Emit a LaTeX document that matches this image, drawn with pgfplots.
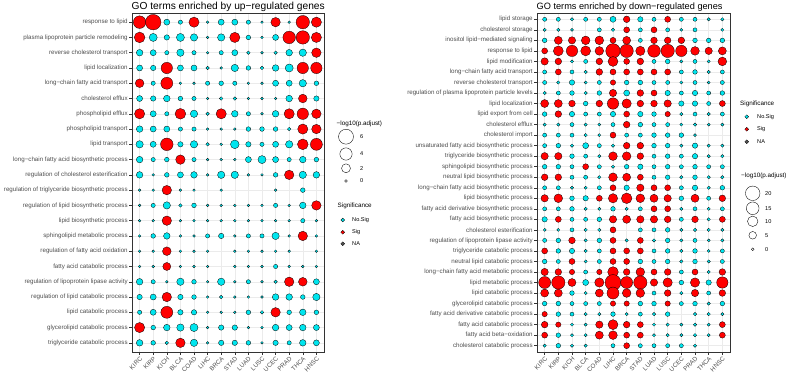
\documentclass[border=0pt]{standalone}
\usepackage{pgfplots}
\pgfplotsset{compat=1.18}
\usepackage{pgfplotstable}
\usepackage{fontspec}
\setmainfont{Liberation Sans}
\definecolor{sigred}{HTML}{FF0000}
\definecolor{nscyan}{HTML}{00E5EE}
\definecolor{nagrey}{HTML}{555555}
\definecolor{labgrey}{HTML}{4D4D4D}
\definecolor{gridgrey}{HTML}{EBEBEB}
\definecolor{framegrey}{HTML}{333333}
\newcommand\tickfont{\fontsize{6.2}{7}\selectfont}
\newcommand\legtitlefont{\fontsize{6.3}{7}\selectfont}
\newcommand\legfont{\fontsize{5.6}{6}\selectfont}

% x = cancer index (0..13), y = GO term row (1 = top), v = -log10(p.adjust), s = 1 Sig / 0 No.Sig
\pgfplotstableread[row sep=\\]{
x y v s\\
0 1 4.2 1\\ 1 1 6.5 1\\ 2 1 0.8 0\\ 3 1 0.3 0\\ 4 1 2.7 1\\ 5 1 0 0\\ 6 1 0.8 0\\ 7 1 0.8 0\\ 8 1 0.3 0\\ 9 1 0 0\\ 10 1 2.3 1\\ 11 1 0 0\\ 12 1 4.8 1\\ 13 1 2.7 1\\
0 2 3.0 1\\ 1 2 1.6 0\\ 2 2 0.6 0\\ 3 2 1.6 0\\ 4 2 1.3 0\\ 5 2 0 0\\ 6 2 1.3 0\\ 7 2 2.7 1\\ 8 2 0.4 0\\ 9 2 0 0\\ 10 2 0.8 0\\ 11 2 4.2 1\\ 12 2 4.8 1\\ 13 2 2.7 1\\
0 3 1.0 0\\ 1 3 0.8 0\\ 2 3 0.3 0\\ 3 3 1.3 0\\ 4 3 0.3 0\\ 5 3 0 0\\ 6 3 0.3 0\\ 7 3 0.8 0\\ 8 3 0.15 0\\ 9 3 0 0\\ 10 3 0.15 0\\ 11 3 1.0 0\\ 12 3 1.3 0\\ 13 3 2.3 1\\
0 4 0.8 0\\ 1 4 0.6 0\\ 2 4 3.4 1\\ 3 4 0.8 0\\ 4 4 0.8 0\\ 5 4 0.15 0\\ 6 4 0 0\\ 7 4 1.3 0\\ 8 4 0.4 0\\ 9 4 0.15 0\\ 10 4 1.0 0\\ 11 4 1.6 0\\ 12 4 3.4 1\\ 13 4 3.4 1\\
0 5 1.9 1\\ 1 5 0.3 0\\ 2 5 3.8 1\\ 3 5 0 0\\ 4 5 0 0\\ 5 5 0.3 0\\ 6 5 0.4 0\\ 7 5 0.3 0\\ 8 5 0 0\\ 9 5 0 0\\ 10 5 0.8 0\\ 11 5 0.8 0\\ 12 5 1.3 0\\ 13 5 0.4 0\\
0 6 0.8 0\\ 1 6 0.6 0\\ 2 6 1.0 0\\ 3 6 0.4 0\\ 4 6 0.3 0\\ 5 6 0 0\\ 6 6 0.15 0\\ 7 6 0.15 0\\ 8 6 0 0\\ 9 6 0 0\\ 10 6 0 0\\ 11 6 1.0 0\\ 12 6 1.9 1\\ 13 6 0.6 0\\
0 7 2.7 1\\ 1 7 0.8 0\\ 2 7 0.3 0\\ 3 7 3.0 1\\ 4 7 1.3 0\\ 5 7 0.15 0\\ 6 7 2.7 1\\ 7 7 1.0 0\\ 8 7 0.3 0\\ 9 7 0 0\\ 10 7 1.0 0\\ 11 7 2.7 1\\ 12 7 3.4 1\\ 13 7 2.3 1\\
0 8 1.0 0\\ 1 8 0.8 0\\ 2 8 0.8 0\\ 3 8 0.3 0\\ 4 8 0.3 0\\ 5 8 0 0\\ 6 8 0 0\\ 7 8 0 0\\ 8 8 0.4 0\\ 9 8 0.4 0\\ 10 8 0.4 0\\ 11 8 0.15 0\\ 12 8 2.7 1\\ 13 8 2.3 1\\
0 9 1.3 0\\ 1 9 0.8 0\\ 2 9 4.2 1\\ 3 9 0.6 0\\ 4 9 1.3 0\\ 5 9 0.15 0\\ 6 9 0 0\\ 7 9 1.9 0\\ 8 9 0.6 0\\ 9 9 0.3 0\\ 10 9 0.8 0\\ 11 9 1.3 0\\ 12 9 3.0 1\\ 13 9 3.8 1\\
0 10 1.0 0\\ 1 10 0.3 0\\ 2 10 0.4 0\\ 3 10 2.3 1\\ 4 10 0.3 0\\ 5 10 0 0\\ 6 10 0 0\\ 7 10 0 0\\ 8 10 0.8 0\\ 9 10 1.6 0\\ 10 10 0.8 0\\ 11 10 0.3 0\\ 12 10 1.0 0\\ 13 10 0.4 0\\
0 11 1.0 0\\ 1 11 0 0\\ 2 11 0.4 0\\ 3 11 0.8 0\\ 4 11 1.0 0\\ 5 11 0 0\\ 6 11 1.3 0\\ 7 11 1.3 0\\ 8 11 0 0\\ 9 11 0 0\\ 10 11 0.4 0\\ 11 11 2.3 1\\ 12 11 1.3 0\\ 13 11 1.0 0\\
0 12 0 0\\ 1 12 0 0\\ 2 12 2.3 1\\ 3 12 0 0\\ 4 12 0 0\\ 6 12 0 0\\ 10 12 0 0\\ 12 12 0.4 0\\
0 13 0 0\\ 1 13 0.3 0\\ 2 13 1.3 0\\ 3 13 0.15 0\\ 4 13 0.4 0\\ 5 13 0 0\\ 6 13 0 0\\ 7 13 0 0\\ 8 13 0 0\\ 9 13 0 0\\ 10 13 0.3 0\\ 11 13 0 0\\ 12 13 1.0 0\\ 13 13 2.3 1\\
0 14 0 0\\ 1 14 0 0\\ 2 14 2.3 1\\ 3 14 0 0\\ 4 14 0 0\\ 5 14 0 0\\ 6 14 0 0\\ 7 14 0 0\\ 8 14 0 0\\ 9 14 0 0\\ 10 14 0 0\\ 11 14 0 0\\ 12 14 0.3 0\\ 13 14 0 0\\
0 15 0 0\\ 1 15 0.4 0\\ 2 15 1.0 0\\ 3 15 0 0\\ 4 15 0 0\\ 5 15 0.3 0\\ 6 15 0.6 0\\ 7 15 0 0\\ 8 15 0.3 0\\ 9 15 0.3 0\\ 10 15 1.3 0\\ 11 15 0 0\\ 12 15 2.3 1\\ 13 15 0 0\\
0 16 0 0\\ 1 16 0 0\\ 2 16 1.9 1\\ 3 16 0 0\\ 4 16 0 0\\ 5 16 0 0\\ 7 16 0 0\\ 8 16 0 0\\ 9 16 0 0\\ 10 16 0 0\\ 11 16 0 0\\ 13 16 0 0\\
0 17 0 0\\ 1 17 0 0\\ 2 17 1.6 1\\ 3 17 0 0\\ 4 17 0 0\\ 5 17 0 0\\ 7 17 0 0\\ 8 17 0 0\\ 9 17 0 0\\ 10 17 0.3 0\\ 11 17 0 0\\ 12 17 0 0\\ 13 17 0 0\\
0 18 1.0 0\\ 1 18 0.3 0\\ 2 18 0 0\\ 3 18 1.3 0\\ 4 18 0.4 0\\ 5 18 0 0\\ 6 18 1.3 0\\ 7 18 0 0\\ 8 18 0.3 0\\ 9 18 0 0\\ 10 18 0.15 0\\ 11 18 2.3 1\\ 12 18 1.9 1\\ 13 18 0.8 0\\
0 19 0.6 0\\ 1 19 0.8 0\\ 2 19 2.3 1\\ 3 19 0.6 0\\ 4 19 0.4 0\\ 5 19 0 0\\ 6 19 0.15 0\\ 7 19 0 0\\ 8 19 0 0\\ 9 19 0 0\\ 10 19 1.0 0\\ 11 19 1.0 0\\ 12 19 0.4 0\\ 13 19 1.3 0\\
0 20 0.3 0\\ 1 20 0.8 0\\ 2 20 3.8 1\\ 3 20 0.6 0\\ 4 20 0.6 0\\ 5 20 0 0\\ 6 20 0 0\\ 7 20 0 0\\ 8 20 0.4 0\\ 9 20 0.15 0\\ 10 20 2.3 1\\ 11 20 0.4 0\\ 12 20 1.0 0\\ 13 20 0.4 0\\
0 21 2.7 1\\ 1 21 0.4 0\\ 2 21 1.0 0\\ 3 21 1.3 0\\ 4 21 1.6 0\\ 5 21 0 0\\ 6 21 0.6 0\\ 7 21 0.6 0\\ 8 21 0 0\\ 9 21 0 0\\ 10 21 1.0 0\\ 11 21 0.8 0\\ 12 21 1.0 0\\ 13 21 0.8 0\\
0 22 1.0 0\\ 1 22 0.4 0\\ 2 22 0.15 0\\ 3 22 2.3 1\\ 4 22 1.3 0\\ 5 22 0 0\\ 6 22 0.6 0\\ 7 22 0.6 0\\ 8 22 0.4 0\\ 9 22 0 0\\ 10 22 0.6 0\\ 11 22 0.3 0\\ 12 22 1.0 0\\ 13 22 0.8 0\\
}\upT

\pgfplotstableread[row sep=\\]{
x y v s\\
0 1 0.9 0\\ 1 1 0.9 0\\ 2 1 0.4 0\\ 3 1 0.9 0\\ 4 1 0.9 0\\ 5 1 2.8 0\\ 6 1 3.6 1\\ 7 1 2.1 0\\ 8 1 0.9 0\\ 9 1 2.8 1\\ 10 1 0.9 0\\ 11 1 0.9 0\\ 12 1 0.4 0\\ 13 1 0.4 0\\
0 2 0.4 0\\ 1 2 0.4 0\\ 2 2 0.2 0\\ 4 2 0.9 0\\ 5 2 0.4 0\\ 6 2 2.8 1\\ 7 2 0.9 0\\ 8 2 2.8 1\\ 9 2 0.9 0\\ 10 2 0.2 0\\ 11 2 0.9 0\\ 13 2 0.2 0\\
0 3 1.4 0\\ 1 3 5.6 1\\ 2 3 4.6 1\\ 3 3 6.7 1\\ 4 3 6.7 1\\ 5 3 2.8 1\\ 6 3 5.6 1\\ 7 3 0.9 0\\ 8 3 3.6 1\\ 9 3 3.6 1\\ 10 3 3.6 1\\ 11 3 1.4 0\\ 12 3 1.4 0\\ 13 3 1.4 0\\
0 4 2.8 1\\ 1 4 9 1\\ 2 4 12 1\\ 3 4 9 1\\ 4 4 6.7 1\\ 5 4 20 1\\ 6 4 16.7 1\\ 7 4 7.8 1\\ 8 4 15 1\\ 9 4 16.7 1\\ 10 4 12 1\\ 11 4 6.7 1\\ 12 4 4.6 1\\ 13 4 5.6 1\\
0 5 4.6 1\\ 1 5 3.6 1\\ 2 5 0.3 0\\ 3 5 0.9 0\\ 4 5 3.6 1\\ 5 5 9 1\\ 6 5 2.8 1\\ 7 5 3.6 1\\ 8 5 0.9 0\\ 9 5 1.4 0\\ 10 5 0.3 0\\ 11 5 0.9 0\\ 12 5 0.3 0\\ 13 5 6.7 1\\
0 6 0.9 0\\ 1 6 2.8 1\\ 2 6 0.9 0\\ 3 6 0.4 0\\ 4 6 3.6 1\\ 5 6 2.8 1\\ 6 6 2.8 1\\ 7 6 2.8 1\\ 8 6 2.8 1\\ 9 6 2.8 1\\ 10 6 0.9 0\\ 11 6 1.4 0\\ 12 6 0.4 0\\ 13 6 0.9 0\\
0 7 0.9 0\\ 1 7 0.4 0\\ 2 7 2.1 0\\ 3 7 0.3 0\\ 4 7 0.9 0\\ 5 7 2.1 1\\ 6 7 1.4 0\\ 7 7 1.4 0\\ 8 7 0.9 0\\ 9 7 0.9 0\\ 10 7 0.3 0\\ 11 7 0.9 0\\ 12 7 0.2 0\\ 13 7 0.9 0\\
0 8 0.4 0\\ 1 8 0.9 0\\ 2 8 1.4 0\\ 3 8 0.4 0\\ 4 8 1.4 0\\ 5 8 4.6 1\\ 6 8 2.8 0\\ 7 8 3.6 1\\ 8 8 2.8 1\\ 9 8 2.1 0\\ 10 8 0.9 0\\ 11 8 2.1 0\\ 12 8 0.9 0\\ 13 8 1.4 0\\
0 9 5.6 1\\ 1 9 5.6 1\\ 2 9 3.6 1\\ 3 9 1.4 0\\ 4 9 3.6 1\\ 5 9 12 1\\ 6 9 7.8 1\\ 7 9 3.6 1\\ 8 9 3.6 1\\ 9 9 4.6 1\\ 10 9 2.1 0\\ 11 9 2.1 0\\ 12 9 0.9 0\\ 13 9 2.8 1\\
0 10 1.4 0\\ 1 10 3.6 1\\ 2 10 2.1 0\\ 3 10 0.9 0\\ 4 10 0.9 0\\ 5 10 2.1 0\\ 6 10 2.8 1\\ 7 10 2.1 0\\ 8 10 1.4 0\\ 9 10 2.1 1\\ 10 10 0.4 0\\ 11 10 0.9 0\\ 12 10 0.4 0\\ 13 10 0.9 0\\
0 11 0.4 0\\ 1 11 0.4 0\\ 2 11 0.9 0\\ 3 11 0.4 0\\ 4 11 0.2 0\\ 5 11 0.9 0\\ 6 11 3.6 1\\ 7 11 1.4 0\\ 8 11 0.9 0\\ 9 11 0.9 0\\ 10 11 0.2 0\\ 11 11 0.4 0\\ 12 11 0.2 0\\ 13 11 0.3 0\\
0 12 0.9 0\\ 1 12 0.9 0\\ 2 12 0.9 0\\ 3 12 0.4 0\\ 4 12 0.2 0\\ 5 12 2.8 1\\ 6 12 0.9 0\\ 7 12 0.9 0\\ 8 12 1.4 0\\ 9 12 1.4 0\\ 10 12 1.4 0\\ 11 12 0.2 0\\
0 13 0.9 0\\ 1 13 1.4 0\\ 2 13 0.4 0\\ 3 13 2.8 0\\ 4 13 0.9 0\\ 5 13 0.4 0\\ 6 13 3.6 1\\ 7 13 3.6 1\\ 8 13 1.4 0\\ 9 13 1.4 0\\ 10 13 0.4 0\\ 11 13 2.1 0\\ 12 13 0.4 0\\ 13 13 0.4 0\\
0 14 4.6 1\\ 1 14 4.6 1\\ 2 14 1.4 0\\ 3 14 0.9 0\\ 4 14 0.4 0\\ 5 14 6.7 1\\ 6 14 6.7 1\\ 7 14 3.6 1\\ 8 14 0.9 0\\ 9 14 1.4 0\\ 10 14 0.9 0\\ 11 14 2.1 0\\ 12 14 0.4 0\\ 13 14 0.4 0\\
0 15 1.4 0\\ 1 15 1.4 0\\ 2 15 0.9 0\\ 3 15 2.8 1\\ 4 15 0.9 0\\ 5 15 0.4 0\\ 6 15 1.4 0\\ 7 15 2.1 0\\ 8 15 0.9 0\\ 9 15 1.4 0\\ 10 15 0.9 0\\ 11 15 1.4 0\\ 12 15 0.9 0\\ 13 15 0.9 0\\
0 16 3.6 1\\ 1 16 3.6 1\\ 2 16 0.9 0\\ 3 16 0.9 0\\ 4 16 0.4 0\\ 5 16 6.7 1\\ 6 16 5.6 1\\ 7 16 2.8 1\\ 8 16 0.9 0\\ 9 16 1.4 0\\ 10 16 0.4 0\\ 11 16 1.4 0\\ 12 16 0.4 0\\ 13 16 0.4 0\\
0 17 0.9 0\\ 1 17 0.9 0\\ 2 17 0.4 0\\ 3 17 0.3 0\\ 4 17 0.9 0\\ 5 17 2.8 1\\ 6 17 2.1 0\\ 7 17 4.6 1\\ 8 17 2.8 1\\ 9 17 2.8 1\\ 10 17 0.9 0\\ 11 17 2.1 0\\ 12 17 0.4 0\\ 13 17 1.4 0\\
0 18 4.6 1\\ 1 18 6.7 1\\ 2 18 1.4 0\\ 3 18 2.1 0\\ 4 18 2.8 1\\ 5 18 7.8 1\\ 6 18 10.4 1\\ 7 18 6.7 1\\ 8 18 5.6 1\\ 9 18 4.6 1\\ 10 18 1.4 0\\ 11 18 5.6 1\\ 12 18 0.9 0\\ 13 18 3.6 1\\
0 19 0.9 0\\ 1 19 0.9 0\\ 2 19 1.4 0\\ 3 19 0.4 0\\ 4 19 0.3 0\\ 5 19 1.4 0\\ 6 19 0.4 0\\ 7 19 0.9 0\\ 8 19 2.8 1\\ 9 19 2.8 1\\ 10 19 0.4 0\\ 11 19 0.9 0\\ 12 19 0.3 0\\ 13 19 0.9 0\\
0 20 2.1 0\\ 1 20 2.8 1\\ 2 20 0.9 0\\ 3 20 0.9 0\\ 4 20 1.4 0\\ 5 20 4.6 1\\ 6 20 5.6 1\\ 7 20 4.6 1\\ 8 20 4.6 1\\ 9 20 3.6 1\\ 10 20 0.9 0\\ 11 20 3.6 1\\ 12 20 0.4 0\\ 13 20 2.8 1\\
0 21 0.2 0\\ 1 21 0.2 0\\ 2 21 0.9 0\\ 3 21 0.4 0\\ 4 21 0.4 0\\ 5 21 2.8 1\\ 7 21 0.9 0\\ 8 21 0.9 0\\ 9 21 1.4 0\\ 10 21 0.4 0\\ 11 21 0.4 0\\ 12 21 0.4 0\\ 13 21 0.3 0\\
0 22 0.9 0\\ 1 22 1.4 0\\ 2 22 3.6 1\\ 3 22 0.4 0\\ 4 22 1.4 0\\ 5 22 2.8 1\\ 6 22 0.4 0\\ 7 22 2.8 1\\ 8 22 0.4 0\\ 9 22 1.4 0\\ 10 22 0.4 0\\ 11 22 0.9 0\\ 12 22 0.2 0\\ 13 22 0.4 0\\
0 23 2.8 1\\ 1 23 1.4 0\\ 2 23 2.1 0\\ 3 23 0.4 0\\ 4 23 0.9 0\\ 5 23 2.8 1\\ 6 23 2.8 1\\ 7 23 2.8 1\\ 8 23 0.9 0\\ 9 23 1.4 0\\ 10 23 0.4 0\\ 11 23 1.4 0\\ 12 23 0.2 0\\ 13 23 0.9 0\\
0 24 1.4 0\\ 1 24 0.9 0\\ 2 24 2.8 1\\ 3 24 0.3 0\\ 4 24 0.9 0\\ 5 24 2.8 1\\ 6 24 2.8 1\\ 7 24 1.4 0\\ 8 24 0.9 0\\ 9 24 1.4 0\\ 10 24 0.4 0\\ 11 24 1.4 0\\ 12 24 0.4 0\\ 13 24 0.9 0\\
0 25 4.6 1\\ 1 25 3.6 1\\ 2 25 2.1 1\\ 3 25 0.9 0\\ 4 25 2.1 1\\ 5 25 10.4 1\\ 6 25 3.6 1\\ 7 25 6.7 1\\ 8 25 2.8 1\\ 9 25 3.6 1\\ 10 25 0.9 0\\ 11 25 2.8 1\\ 12 25 0.3 0\\ 13 25 3.6 1\\
0 26 13.4 1\\ 1 26 16.7 1\\ 2 26 5.6 1\\ 3 26 2.8 0\\ 4 26 7.8 1\\ 5 26 24 1\\ 6 26 13.4 1\\ 7 26 16.7 1\\ 8 26 4.6 1\\ 9 26 7.8 1\\ 10 26 1.4 0\\ 11 26 7.8 1\\ 12 26 2.1 0\\ 13 26 12 1\\
0 27 5.6 1\\ 1 27 5.6 1\\ 2 27 1.4 0\\ 3 27 0.3 0\\ 4 27 5.6 1\\ 5 27 13.4 1\\ 6 27 6.7 1\\ 7 27 6.7 1\\ 8 27 0.9 0\\ 9 27 3.6 1\\ 10 27 0.4 0\\ 11 27 4.6 1\\ 12 27 0.9 0\\ 13 27 3.6 1\\
0 28 1.4 0\\ 1 28 1.4 0\\ 2 28 0.9 0\\ 3 28 0.9 0\\ 4 28 0.9 0\\ 5 28 2.1 1\\ 6 28 2.1 1\\ 7 28 1.4 0\\ 8 28 1.4 0\\ 9 28 2.1 1\\ 10 28 0.9 0\\ 11 28 1.4 0\\ 12 28 0.4 0\\ 13 28 1.4 0\\
0 29 2.1 1\\ 1 29 1.4 0\\ 2 29 0.9 0\\ 3 29 0.4 0\\ 4 29 0.4 0\\ 5 29 1.4 0\\ 6 29 0.3 0\\ 7 29 0.9 0\\ 8 29 0.4 0\\ 9 29 1.4 0\\ 11 29 0.4 0\\ 12 29 0.4 0\\ 13 29 0.3 0\\
0 30 3.6 1\\ 1 30 2.1 1\\ 2 30 0.3 0\\ 3 30 0.3 0\\ 4 30 4.6 1\\ 5 30 9 1\\ 6 30 3.6 1\\ 7 30 2.8 1\\ 8 30 0.3 0\\ 9 30 0.4 0\\ 10 30 0.3 0\\ 11 30 0.4 0\\ 12 30 0.3 0\\ 13 30 2.8 1\\
0 31 2.8 1\\ 1 31 1.4 0\\ 2 31 0.3 0\\ 3 31 0.3 0\\ 4 31 5.6 1\\ 5 31 6.7 1\\ 6 31 2.8 1\\ 7 31 2.8 1\\ 8 31 0.3 0\\ 9 31 0.4 0\\ 10 31 0.3 0\\ 11 31 0.4 0\\ 12 31 0.3 0\\ 13 31 2.8 1\\
0 32 0.4 0\\ 1 32 1.4 0\\ 2 32 0.4 0\\ 3 32 0.4 0\\ 5 32 0.9 0\\ 6 32 2.8 1\\ 7 32 0.9 0\\ 8 32 0.9 0\\ 9 32 0.9 0\\ 10 32 0.9 0\\ 11 32 0.4 0\\
}\downT

% legend keys in picture coordinates (pt from lower left)
\pgfplotstableread[row sep=\\]{
x y v\\
346 235.3 6\\ 346 218 4\\ 346 203.7 2\\ 346 191 0\\
}\upSizeKey
\pgfplotstableread[row sep=\\]{
x y v\\
752.7 178.7 20\\ 752.7 163.7 15\\ 752.7 150.7 10\\ 752.7 136.7 5\\ 752.7 122.7 0\\
}\downSizeKey
\pgfplotstableread[row sep=\\]{
x y s\\
342.7 152 0\\ 342.7 139.7 1\\ 342.7 128.3 2\\
746.7 255.3 0\\ 746.7 242.7 1\\ 746.7 230.3 2\\
}\sigKey

\pgfplotsset{
  bubblepanel/.style={
    scale only axis, width=192pt, height=339pt,
    xmin=-0.56, xmax=13.56, y dir=reverse,
    xtick={0,...,13},
    xticklabels={KIRC,KIRP,KICH,BLCA,COAD,LIHC,BRCA,STAD,LUAD,LUSC,UCEC,PRAD,THCA,HNSC},
    xticklabel style={rotate=45, anchor=north east, font=\tickfont, text=labgrey, inner sep=1.2pt},
    yticklabel style={font=\tickfont, text=labgrey, inner sep=1.5pt},
    tick align=outside, major tick length=2.6pt,
    xtick pos=bottom, ytick pos=left,
    tick style={framegrey, line width=0.45pt},
    axis line style={framegrey, line width=0.5pt},
    grid=major, major grid style={gridgrey, line width=0.5pt},
    title style={at={(0,1)}, anchor=south west, inner sep=0pt, xshift=-0.5pt},
    colormap={sigmap}{color(0)=(nscyan) color(1)=(sigred)},
    point meta min=0, point meta max=1,
  },
  bubbles/.style={
    scatter, only marks, mark=*, point meta=explicit,
    scatter/use mapped color={draw=black, fill=mapped color},
    mark options={line width=0.3pt},
    visualization depends on={sqrt(1.8+#1*\thisrow{v}) \as \rad},
    scatter/@pre marker code/.append style={/tikz/mark size=\rad},
  },
}

\begin{document}
\begin{tikzpicture}

\begin{axis}[bubblepanel, at={(228pt,189.5pt)}, anchor=center,
  ymin=0.4, ymax=22.6, ytick={1,...,22},
  yticklabels={response to lipid, plasma lipoprotein particle remodeling, reverse cholesterol transport, lipid localization, long−chain fatty acid transport, cholesterol efflux, phospholipid efflux, phospholipid transport, lipid transport, long−chain fatty acid biosynthetic process, regulation of cholesterol esterification, regulation of triglyceride biosynthetic process, regulation of lipid biosynthetic process, lipid biosynthetic process, sphingolipid metabolic process, regulation of fatty acid oxidation, fatty acid catabolic process, regulation of lipoprotein lipase activity, regulation of lipid catabolic process, lipid catabolic process, glycerolipid catabolic process, triglyceride catabolic process},
  title style={font=\fontsize{10.2}{11}\selectfont, yshift=-5.2pt},
  title={GO terms enriched by up−regulated genes}]
\addplot[bubbles=9] table[x=x, y=y, meta=s] {\upT};
\end{axis}

\begin{axis}[bubblepanel, at={(633.5pt,189.5pt)}, anchor=center, width=193pt,
  ymin=0.4, ymax=32.6, ytick={1,...,32},
  yticklabels={lipid storage, cholesterol storage, inositol lipid−mediated signaling, response to lipid, lipid modification, long−chain fatty acid transport, reverse cholesterol transport, regulation of plasma lipoprotein particle levels, lipid localization, lipid export from cell, cholesterol efflux, cholesterol import, unsaturated fatty acid biosynthetic process, triglyceride biosynthetic process, sphingolipid biosynthetic process, neutral lipid biosynthetic process, long−chain fatty acid biosynthetic process, lipid biosynthetic process, fatty acid derivative biosynthetic process, fatty acid biosynthetic process, cholesterol esterification, regulation of lipoprotein lipase activity, triglyceride catabolic process, neutral lipid catabolic process, long−chain fatty acid metabolic process, lipid metabolic process, lipid catabolic process, glycerolipid catabolic process, fatty acid derivative catabolic process, fatty acid catabolic process, fatty acid beta−oxidation, cholesterol catabolic process},
  title style={font=\fontsize{9.2}{10}\selectfont, yshift=-4.8pt},
  title={GO terms enriched by down−regulated genes}]
\addplot[bubbles=2.55] table[x=x, y=y, meta=s] {\downT};
\end{axis}

% legends, drawn in an overlay axis whose units are picture points
\begin{axis}[at={(0pt,0pt)}, anchor=south west, scale only axis, width=798pt, height=372pt,
  xmin=0, xmax=798, ymin=0, ymax=372, hide axis, clip=false,
  colormap={sigkey}{color(0)=(nscyan) color(1)=(sigred) color(2)=(nagrey)},
  point meta min=0, point meta max=2]
\addplot[scatter, only marks, mark=*, point meta=explicit, scatter/use mapped color={draw=black, fill=white},
  mark options={line width=0.35pt},
  visualization depends on={sqrt(1.8+9*\thisrow{v}) \as \rad},
  scatter/@pre marker code/.append style={/tikz/mark size=\rad}]
  table[x=x, y=y, meta=v] {\upSizeKey};
\addplot[scatter, only marks, mark=*, point meta=explicit, scatter/use mapped color={draw=black, fill=white},
  mark options={line width=0.35pt},
  visualization depends on={sqrt(1.8+2.55*\thisrow{v}) \as \rad},
  scatter/@pre marker code/.append style={/tikz/mark size=\rad}]
  table[x=x, y=y, meta=v] {\downSizeKey};
\addplot[scatter, only marks, mark=*, mark size=1.9pt, point meta=explicit,
  scatter/use mapped color={draw=black, fill=mapped color},
  mark options={line width=0.3pt}]
  table[x=x, y=y, meta=s] {\sigKey};

\node[anchor=west, font=\legtitlefont, inner sep=0pt] at (axis cs:336.5,248) {−log10(p.adjust)};
\node[anchor=west, font=\legfont, inner sep=0pt] at (axis cs:360,235.3) {6};
\node[anchor=west, font=\legfont, inner sep=0pt] at (axis cs:360,218) {4};
\node[anchor=west, font=\legfont, inner sep=0pt] at (axis cs:360,203.7) {2};
\node[anchor=west, font=\legfont, inner sep=0pt] at (axis cs:360,191) {0};
\node[anchor=west, font=\legtitlefont, inner sep=0pt] at (axis cs:337.5,166) {Significance};
\node[anchor=west, font=\legfont, inner sep=0pt] at (axis cs:352,152) {No.Sig};
\node[anchor=west, font=\legfont, inner sep=0pt] at (axis cs:352,139.7) {Sig};
\node[anchor=west, font=\legfont, inner sep=0pt] at (axis cs:352,128.3) {NA};

\node[anchor=west, font=\legtitlefont, inner sep=0pt] at (axis cs:740,268) {Significance};
\node[anchor=west, font=\legfont, inner sep=0pt] at (axis cs:757,255.3) {No.Sig};
\node[anchor=west, font=\legfont, inner sep=0pt] at (axis cs:757,242.7) {Sig};
\node[anchor=west, font=\legfont, inner sep=0pt] at (axis cs:757,230.3) {NA};
\node[anchor=west, font=\legtitlefont, inner sep=0pt] at (axis cs:741,196) {−log10(p.adjust)};
\node[anchor=west, font=\legfont, inner sep=0pt] at (axis cs:765,178.7) {20};
\node[anchor=west, font=\legfont, inner sep=0pt] at (axis cs:765,163.7) {15};
\node[anchor=west, font=\legfont, inner sep=0pt] at (axis cs:765,150.7) {10};
\node[anchor=west, font=\legfont, inner sep=0pt] at (axis cs:765,136.7) {5};
\node[anchor=west, font=\legfont, inner sep=0pt] at (axis cs:765,122.7) {0};
\end{axis}

\pgfresetboundingbox
\path[use as bounding box] (0pt,0pt) rectangle (798pt,372pt);
\end{tikzpicture}
\end{document}
